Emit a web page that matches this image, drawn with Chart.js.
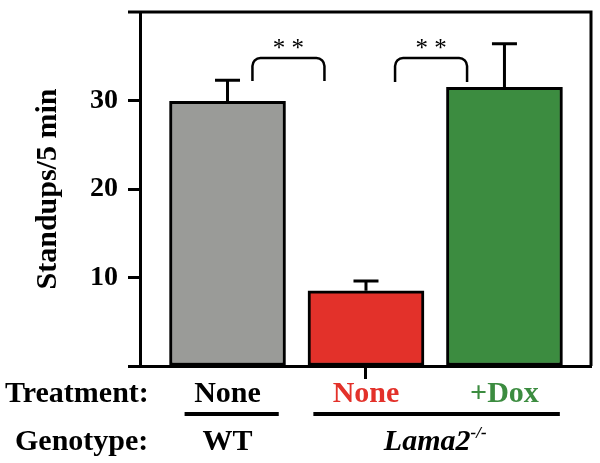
<!DOCTYPE html>
<html>
<head>
<meta charset="utf-8">
<script src="https://cdn.jsdelivr.net/npm/chart.js@4"></script>
<style>
html, body { margin: 0; padding: 0; background: #fff; }
</style>
</head>
<body>
<canvas id="c" width="600" height="463"></canvas>
<script>
// values
const treatments = ["None", "None", "+Dox"];
const treatmentColors = ["#000000", "#e3312a", "#3c8c40"];
const barColors = ["#9a9b98", "#e3312a", "#3c8c40"];
const means = [29.9, 8.5, 31.5];
const sems = [2.4, 1.1, 4.9];
const yTicks = [0, 10, 20, 30];

// annotations, in axis units
const brackets = [
  { from: 0.18, to: 0.70, top: 34.8, foot: 32.2, label: "**" },
  { from: 1.21, to: 1.73, top: 34.8, foot: 32.1, label: "**" }
];
const genotypes = [
  { label: "WT", from: -0.31, to: 0.37, center: 0 },
  { label: "Lama2", sup: "-/-", from: 0.62, to: 2.40, center: 1.5 }
];

const serif = '"Liberation Serif", "Times New Roman", serif';

const deco = {
  id: "deco",
  afterDatasetsDraw(chart) {
    const { ctx, chartArea: a, scales: { x, y } } = chart;
    ctx.save();
    ctx.strokeStyle = "#000";
    ctx.lineWidth = 3;

    // top + right frame
    ctx.beginPath();
    ctx.moveTo(a.left - 12, a.top);
    ctx.lineTo(a.right, a.top);
    ctx.lineTo(a.right, a.bottom);
    ctx.stroke();

    // error bars (upper only)
    means.forEach((m, i) => {
      const cx = x.getPixelForValue(i);
      const yb = y.getPixelForValue(m);
      const yt = y.getPixelForValue(m + sems[i]);
      ctx.beginPath();
      ctx.moveTo(cx, yb);
      ctx.lineTo(cx, yt);
      ctx.moveTo(cx - 12.5, yt);
      ctx.lineTo(cx + 12.5, yt);
      ctx.stroke();
    });

    // significance brackets
    ctx.lineWidth = 2.5;
    brackets.forEach(b => {
      const x1 = x.getPixelForValue(b.from), x2 = x.getPixelForValue(b.to);
      const yt = y.getPixelForValue(b.top), yf = y.getPixelForValue(b.foot);
      ctx.beginPath();
      ctx.moveTo(x1, yf);
      ctx.arcTo(x1, yt, x2, yt, 8);
      ctx.arcTo(x2, yt, x2, yf, 8);
      ctx.lineTo(x2, yf);
      ctx.stroke();
      ctx.fillStyle = "#000";
      ctx.font = "25px " + serif;
      ctx.textAlign = "center";
      ctx.textBaseline = "alphabetic";
      ctx.fillText(b.label.split("").join(" "), (x1 + x2) / 2, yt - 2);
    });

    // row labels
    ctx.fillStyle = "#000";
    ctx.font = "bold 30px " + serif;
    ctx.textAlign = "left";
    ctx.fillText("Treatment:", 5, 402);
    ctx.fillText("Genotype:", 15, 450);

    // genotype underlines + names
    ctx.lineWidth = 4;
    genotypes.forEach(g => {
      ctx.beginPath();
      ctx.moveTo(x.getPixelForValue(g.from), 414);
      ctx.lineTo(x.getPixelForValue(g.to), 414);
      ctx.stroke();
      const cx = x.getPixelForValue(g.center);
      if (g.sup) {
        ctx.font = "italic bold 30px " + serif;
        const w1 = ctx.measureText(g.label).width;
        ctx.font = "italic bold 17px " + serif;
        const w2 = ctx.measureText(g.sup).width;
        const sx = cx - (w1 + w2) / 2;
        ctx.textAlign = "left";
        ctx.font = "italic bold 30px " + serif;
        ctx.fillText(g.label, sx, 450);
        ctx.font = "italic bold 17px " + serif;
        ctx.fillText(g.sup, sx + w1, 438);
      } else {
        ctx.font = "bold 30px " + serif;
        ctx.textAlign = "center";
        ctx.fillText(g.label, cx, 450);
      }
    });
    ctx.restore();
  }
};

new Chart(document.getElementById("c"), {
  type: "bar",
  data: {
    datasets: [{
      data: means.map((m, i) => ({ x: i, y: m })),
      backgroundColor: barColors,
      borderColor: "#000",
      borderWidth: 3,
      borderSkipped: false,
      barThickness: 116
    }]
  },
  options: {
    responsive: false,
    animation: false,
    devicePixelRatio: 1,
    layout: { padding: { top: 12, right: 9, left: 0, bottom: 0 } },
    plugins: { legend: { display: false }, tooltip: { enabled: false } },
    scales: {
      x: {
        type: "linear",
        offset: false,
        min: -0.632,
        max: 2.625,
        afterBuildTicks: s => { s.ticks = treatments.map((_, i) => ({ value: i })); },
        afterFit: s => { s.height = 97; s.paddingLeft = 0; s.paddingRight = 0; },
        border: { color: "#000", width: 3 },
        grid: {
          offset: false,
          drawOnChartArea: false,
          tickLength: 13,
          tickWidth: 3,
          tickColor: c => (c.index === 1 ? "#000" : "rgba(0,0,0,0)")
        },
        ticks: {
          callback: v => treatments[v],
          color: c => treatmentColors[c.index],
          font: { family: serif, size: 30, weight: "bold" },
          padding: -3,
          maxRotation: 0
        }
      },
      y: {
        min: 0,
        max: 40,
        afterBuildTicks: s => { s.ticks = yTicks.map(v => ({ value: v })); },
        afterFit: s => { s.width = 140; s.paddingTop = 0; s.paddingBottom = 0; },
        border: { color: "#000", width: 3 },
        grid: { drawOnChartArea: false, tickLength: 12, tickWidth: 3, tickColor: "#000" },
        ticks: {
          callback: v => (v === 0 ? "" : v),
          color: "#000",
          font: { family: serif, size: 28, weight: "bold" },
          padding: 10
        },
        title: {
          display: true,
          text: "Standups/5 min",
          color: "#000",
          font: { family: serif, size: 30, weight: "bold" },
          padding: { top: 30, bottom: 0 }
        }
      }
    }
  },
  plugins: [deco]
});
</script>
</body>
</html>
